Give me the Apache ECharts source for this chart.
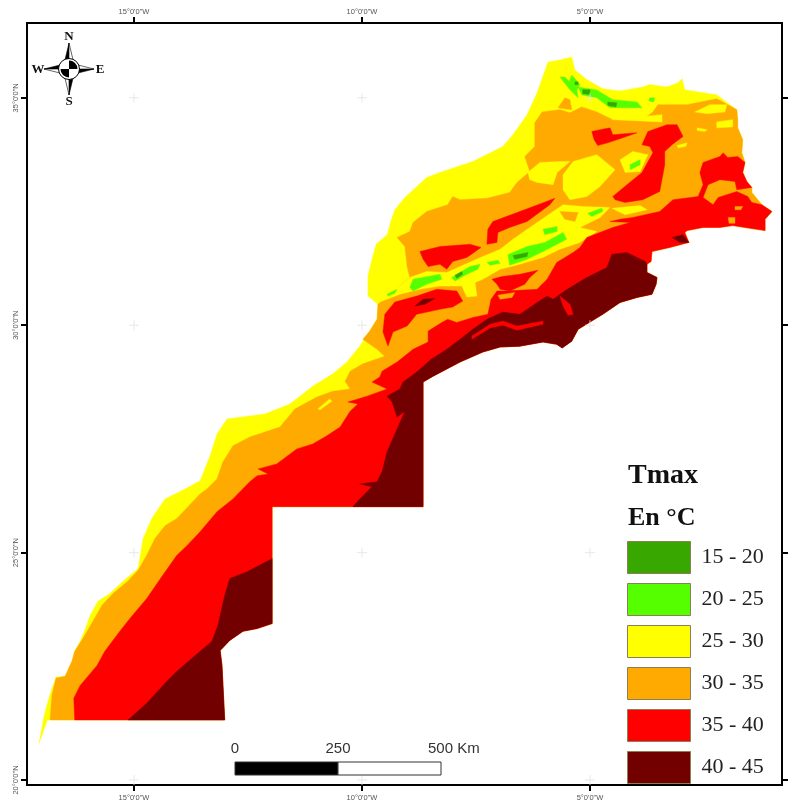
<!DOCTYPE html>
<html><head><meta charset="utf-8">
<style>html,body{margin:0;padding:0;background:#fff}#c{width:790px;height:802px}</style>
<script src="https://cdn.jsdelivr.net/npm/echarts@6/dist/echarts.min.js"></script>
</head><body><div id="c"></div>
<script>
// Tick values and labels
const lonTicks=[-15,-10,-5];
const latTicks=[35,30,25,20];
const classNames=['15 - 20','20 - 25','25 - 30','30 - 35','35 - 40','40 - 45'];
const classColors=['#38a800','#55ff00','#ffff00','#ffaa00','#ff0000','#730000'];

// Shared coastline / border pieces, [lon, lat]
const saharaCoast=[[-17.08,20.81],[-16.99,21.32],[-16.93,21.58],[-16.82,21.95],[-16.71,22.26],[-16.51,22.28],[-16.36,22.61],[-16.30,22.83],[-16.18,23.05],[-16.08,23.29],[-15.96,23.62],[-15.79,23.93],[-15.53,24.10],[-15.24,24.37],[-14.91,24.65],[-14.80,25.31],[-14.61,25.75],[-14.32,26.18],[-13.88,26.40],[-13.55,26.58],[-13.33,27.13],[-13.18,27.61],[-12.96,27.94],[-12.13,28.05],[-11.58,28.27],[-11.36,28.44],[-11.08,28.66],[-10.64,28.93],[-10.33,29.19],[-10.05,29.54]];
const atlanticSouth=[[-9.83,29.87],[-9.67,30.13],[-9.65,30.46]];
const atlanticNorth=[[-9.87,30.64],[-9.87,31.07],[-9.78,31.45],[-9.69,31.78],[-9.44,32.00],[-9.37,32.28],[-9.28,32.54],[-9.06,32.81],[-8.58,33.25],[-8.29,33.36],[-7.57,33.60],[-6.91,33.93],[-6.69,34.19],[-6.38,34.63],[-6.16,35.11],[-5.92,35.79],[-5.66,35.83],[-5.40,35.90],[-5.33,35.61],[-5.07,35.40],[-4.72,35.20],[-4.34,35.15],[-3.84,35.24],[-3.69,35.29],[-3.31,35.24],[-3.07,35.33],[-2.98,35.42],[-2.92,35.18],[-2.52,35.11],[-2.22,35.07],[-2.08,34.96],[-1.78,34.74]];
const easternEdge=[[-1.76,34.52],[-1.76,34.34],[-1.65,34.08],[-1.67,33.79],[-1.60,33.58]];
const easternEdgeLow=[[-1.65,33.36],[-1.56,33.16],[-1.45,33.03]];
const figuigTip=[[-1.45,32.92],[-1.23,32.65],[-1.01,32.50]];
const borderEast=[[-1.16,32.33],[-1.16,32.08],[-1.49,32.13],[-1.87,32.19],[-2.15,32.15],[-2.52,32.15],[-2.87,32.08],[-2.92,32.04],[-2.83,31.82],[-3.25,31.71],[-3.64,31.62],[-3.66,31.40]];
const borderMid=[[-3.75,31.34],[-3.75,31.16],[-3.53,31.05],[-3.55,30.90],[-3.64,30.68],[-3.97,30.61],[-4.34,30.50],[-4.72,30.24],[-5.00,30.07],[-5.26,29.91],[-5.40,29.65],[-5.61,29.50],[-5.73,29.58],[-6.03,29.63],[-6.54,29.54],[-6.97,29.52],[-7.35,29.41],[-7.85,29.19],[-8.44,28.88],[-8.66,28.75],[-8.66,26.01]];
const borderCorner=[[-11.97,26.01]];
const borderSouth=[[-11.97,23.44],[-12.30,23.33],[-12.61,23.27],[-12.90,23.07],[-13.11,22.85],[-13.07,22.52],[-13.01,21.32]];
const southEdgeEnd=[[-16.90,21.32]];

// 25-30 base: whole territory
const yellowBase=[[...saharaCoast,...atlanticSouth,...atlanticNorth,...easternEdge,...easternEdgeLow,...figuigTip,...borderEast,...borderMid,...borderCorner,...borderSouth,...southEdgeEnd]];

// 30-35 main area
const orangeWest=[[-16.84,21.32],[-16.80,21.86],[-16.71,22.24],[-16.51,22.28],[-16.36,22.61],[-16.30,22.83],[-16.12,23.11],[-15.90,23.49],[-15.70,23.84],[-15.46,24.10],[-15.15,24.36],[-14.91,24.61],[-14.72,24.94],[-14.54,25.31],[-14.32,25.59],[-14.06,25.75],[-13.55,26.29],[-13.40,26.40],[-13.18,26.62],[-13.05,26.99],[-12.83,27.35],[-12.46,27.54],[-11.80,27.76],[-11.47,28.16],[-10.99,28.42],[-10.64,28.55],[-10.26,28.60],[-10.37,28.77],[-10.26,28.99],[-9.98,29.15],[-9.50,29.32],[-9.67,29.47],[-9.98,29.69]];
const orangeNorth=[[-9.17,30.86],[-8.95,31.05],[-9.01,31.29],[-9.06,31.73],[-9.23,31.93],[-8.95,32.06],[-8.88,32.26],[-8.58,32.50],[-8.12,32.65],[-8.01,32.83],[-7.85,32.76],[-7.26,32.79],[-6.76,32.92],[-6.60,33.14],[-6.32,33.38],[-6.43,33.71],[-6.21,33.93],[-6.21,34.45],[-6.05,34.69],[-5.66,34.74],[-5.44,34.67],[-5.18,34.80],[-4.85,34.69],[-4.50,34.52],[-3.84,34.52],[-3.62,34.69],[-3.51,34.85],[-2.87,34.85],[-2.22,34.98],[-1.78,34.74]];
const orangeBase=[[...orangeWest,...atlanticSouth,...orangeNorth,...easternEdge,...easternEdgeLow,...figuigTip,...borderEast,...borderMid,...borderCorner,...borderSouth]];

// 25-30 patches over the 30-35 area
const yellowPatches=[
 [[-9.61,30.61],[-9.17,30.86],[-8.95,31.05],[-8.58,31.18],[-8.14,31.16],[-7.85,31.29],[-7.35,31.51],[-6.97,31.67],[-6.69,31.89],[-6.16,32.26],[-5.59,32.65],[-5.16,32.61],[-4.56,32.59],[-4.78,32.37],[-5.22,32.15],[-4.85,32.06],[-5.22,31.82],[-5.66,31.67],[-6.03,31.49],[-6.54,31.34],[-6.97,31.23],[-7.35,31.01],[-7.52,30.94],[-7.48,30.64],[-7.70,30.62],[-7.81,30.86],[-8.29,30.86],[-8.73,30.79],[-9.17,30.68],[-9.61,30.51]],
 [[-5.37,33.60],[-4.85,33.75],[-4.45,33.42],[-4.78,33.05],[-5.07,32.83],[-5.44,32.76],[-5.59,32.98],[-5.59,33.31]],
 [[-6.36,33.36],[-6.10,33.58],[-5.66,33.60],[-5.44,33.60],[-5.72,33.36],[-5.81,33.09],[-6.16,33.14],[-6.32,33.20]],
 [[-2.70,34.69],[-2.37,34.85],[-2.00,34.85],[-2.04,34.69],[-2.43,34.65]],
 [[-4.52,34.52],[-3.42,34.63],[-3.42,34.47],[-4.12,34.50]],
 [[-4.34,33.64],[-4.06,33.82],[-3.73,33.75],[-3.90,33.38],[-4.23,33.36]],
 [[-2.65,34.34],[-2.43,34.30],[-2.48,34.26],[-2.65,34.28]],
 [[-2.22,34.47],[-1.87,34.52],[-1.87,34.36],[-2.22,34.34]],
 [[-10.97,28.16],[-10.71,28.38],[-10.66,28.33],[-10.92,28.14]],
 [[-3.09,33.95],[-2.87,34.01],[-2.90,33.93],[-3.07,33.90]],
 [[-4.52,32.57],[-3.90,32.63],[-3.75,32.54],[-4.23,32.43]]
];

// 35-40 main area and patches
const redMainEdge=[[-16.30,21.32],[-16.32,21.80],[-16.18,22.08],[-15.81,22.52],[-15.64,22.83],[-15.31,23.27],[-15.09,23.55],[-14.72,23.99],[-14.37,24.50],[-14.06,24.94],[-13.84,25.15],[-13.55,25.46],[-13.18,25.90],[-12.83,26.18],[-12.46,26.56],[-12.30,26.69],[-12.06,26.73],[-12.28,26.84],[-11.87,26.95],[-11.43,27.28],[-11.08,27.39],[-10.77,27.57],[-10.48,27.76],[-10.26,28.11],[-10.09,28.27],[-10.31,28.31],[-9.89,28.44],[-9.45,28.60],[-9.78,28.75],[-9.61,28.86],[-9.56,28.99],[-9.23,29.19],[-8.88,29.47],[-8.55,29.63],[-8.55,29.87],[-8.25,30.06],[-8.12,30.13],[-7.92,30.06],[-7.57,30.17],[-7.24,30.24],[-7.17,30.57],[-7.04,30.75],[-6.87,30.75],[-6.16,30.79],[-5.94,31.01],[-5.73,31.38],[-5.37,31.60],[-5.22,31.71],[-5.07,31.93],[-4.50,32.15],[-4.12,32.26],[-4.56,32.28],[-4.34,32.33],[-4.06,32.37],[-3.47,32.50],[-3.18,32.76],[-2.63,32.83],[-2.52,33.09],[-2.59,33.36],[-2.52,33.58],[-2.15,33.71],[-2.08,33.79],[-1.98,33.69],[-1.76,33.71],[-1.60,33.58]];
const redPocket=[[-1.78,32.98],[-1.82,33.16],[-2.15,33.20],[-2.41,33.09],[-2.52,32.81],[-2.30,32.65],[-2.19,32.81],[-1.78,32.94],[-1.54,32.83],[-1.45,32.70]];
const redMain=[[...redMainEdge,...easternEdgeLow,...redPocket,...figuigTip.slice(1),...borderEast,...borderMid,...borderCorner,...borderSouth]];
const redPatches=[
 [[-7.26,31.78],[-7.24,32.11],[-7.13,32.28],[-6.54,32.50],[-6.01,32.70],[-5.77,32.79],[-5.88,32.65],[-6.38,32.28],[-6.76,32.15],[-7.02,32.04],[-7.04,31.82]],
 [[-8.73,31.62],[-8.29,31.73],[-7.63,31.78],[-7.39,31.71],[-7.70,31.49],[-8.01,31.40],[-8.14,31.23],[-8.29,31.34],[-8.55,31.29],[-8.66,31.45]],
 [[-9.54,29.85],[-9.50,30.24],[-9.28,30.51],[-8.80,30.64],[-8.36,30.79],[-7.92,30.75],[-7.79,30.53],[-8.01,30.40],[-8.29,30.35],[-8.80,30.24],[-9.01,29.98],[-9.32,29.85],[-9.43,29.54]],
 [[-4.50,32.83],[-4.19,33.09],[-3.86,33.36],[-3.62,33.79],[-3.69,33.93],[-3.86,33.97],[-3.73,34.26],[-3.31,34.41],[-3.09,34.41],[-2.96,34.15],[-3.20,33.97],[-3.36,33.82],[-3.36,33.53],[-3.47,32.94],[-3.84,32.76],[-4.23,32.70],[-4.45,32.76]],
 [[-4.96,34.26],[-4.78,34.30],[-4.56,34.34],[-4.50,34.19],[-3.97,34.23],[-4.28,34.12],[-4.61,34.01],[-4.83,33.95],[-4.91,34.08]],
 [[-7.15,31.01],[-6.93,31.07],[-6.54,31.12],[-6.14,31.21],[-6.32,31.05],[-6.43,30.90],[-6.76,30.75],[-6.97,30.79],[-7.04,30.90]]
];

// 40-45 areas
const darkRedEdge=[[-10.20,26.01],[-10.05,26.18],[-9.78,26.45],[-10.05,26.51],[-9.67,26.56],[-9.56,26.78],[-9.45,27.22],[-9.23,27.72],[-9.06,28.11],[-9.23,27.98],[-9.34,28.31],[-9.45,28.44],[-9.17,28.60],[-9.10,28.75],[-8.80,28.97],[-8.47,29.26],[-8.14,29.47],[-7.85,29.69],[-7.57,29.91],[-7.26,30.13],[-6.91,30.29],[-6.54,30.24],[-6.16,30.50],[-5.94,30.64],[-5.81,30.57],[-5.50,30.79],[-5.07,31.05],[-4.63,31.27],[-4.52,31.56],[-4.19,31.60],[-3.79,31.40]];
const darkRedSouthEdge=[[-15.13,21.32],[-14.72,21.69],[-14.28,22.17],[-14.06,22.39],[-13.55,22.83],[-13.29,23.05],[-13.16,23.40],[-13.01,24.06],[-12.90,24.43],[-12.52,24.58],[-11.97,24.87]];
const darkRedAreas=[
 [...darkRedEdge,...borderMid],
 [...darkRedSouthEdge,...borderSouth],
 [[-8.84,30.42],[-8.66,30.57],[-8.40,30.59],[-8.62,30.46]],
 [[-3.20,31.93],[-2.96,31.99],[-2.83,31.82],[-3.03,31.82]]
];

// 35-40 wisps inside the 40-45 band
const redWisps=[
 [[-7.59,29.76],[-7.19,30.02],[-6.91,30.09],[-6.60,29.98],[-6.03,30.09],[-6.03,30.02],[-6.60,29.89],[-6.91,30.00],[-7.19,29.94],[-7.59,29.69]],
 [[-5.66,30.64],[-5.44,30.46],[-5.37,30.24],[-5.48,30.22],[-5.59,30.42]]
];

// 30-35 spots over 35-40 and 25-30
const orangePatches=[
 [[-1.97,32.37],[-1.82,32.37],[-1.82,32.24],[-1.95,32.24]],
 [[-1.82,32.61],[-1.65,32.61],[-1.69,32.54],[-1.82,32.54]],
 [[-5.70,34.78],[-5.55,35.00],[-5.44,34.96],[-5.40,34.74]],
 [[-7.02,30.66],[-6.65,30.72],[-6.71,30.61],[-6.97,30.57]],
 [[-5.66,32.50],[-5.26,32.48],[-5.33,32.28],[-5.55,32.33]]
];

// 20-25 areas
const greenAreas=[
 [[-9.45,30.68],[-9.23,30.79],[-9.28,30.70],[-9.43,30.64]],
 [[-8.95,30.83],[-8.88,31.01],[-8.55,31.07],[-8.29,31.12],[-8.25,31.01],[-8.58,30.90],[-8.88,30.75]],
 [[-8.03,31.05],[-7.63,31.29],[-7.41,31.34],[-7.46,31.23],[-7.70,31.12],[-7.96,30.97]],
 [[-7.26,31.38],[-7.02,31.43],[-6.97,31.36],[-7.19,31.32]],
 [[-6.80,31.55],[-6.38,31.73],[-5.99,31.82],[-5.59,32.04],[-5.51,31.89],[-6.03,31.62],[-6.38,31.45],[-6.76,31.32]],
 [[-6.03,32.11],[-5.72,32.17],[-5.72,32.06],[-5.99,31.99]],
 [[-5.05,32.46],[-4.74,32.57],[-4.72,32.50],[-4.96,32.39]],
 [[-5.26,35.24],[-4.85,35.17],[-4.50,34.96],[-3.97,34.91],[-3.86,34.78],[-4.19,34.78],[-4.56,34.78],[-4.85,35.00],[-5.18,35.06]],
 [[-5.66,35.46],[-5.44,35.18],[-5.26,35.00],[-5.29,35.18],[-5.55,35.46]],
 [[-5.40,35.50],[-5.22,35.29],[-5.33,35.11],[-5.48,35.29]],
 [[-3.69,35.00],[-3.58,35.00],[-3.60,34.91],[-3.71,34.93]],
 [[-4.12,33.53],[-3.90,33.64],[-3.90,33.53],[-4.12,33.42]]
];

// 15-20 areas
const deepGreenAreas=[
 [[-5.16,35.18],[-5.00,35.18],[-5.00,35.07],[-5.16,35.09]],
 [[-4.61,34.91],[-4.41,34.89],[-4.43,34.80],[-4.61,34.83]],
 [[-5.33,35.35],[-5.26,35.35],[-5.26,35.29],[-5.33,35.29]],
 [[-6.69,31.53],[-6.36,31.60],[-6.38,31.51],[-6.65,31.45]],
 [[-7.96,31.10],[-7.81,31.18],[-7.79,31.12],[-7.92,31.03]]
];

function area(classIndex,rings){
  const color=classColors[classIndex];
  return {type:'custom',name:classNames[classIndex],coordinateSystem:'cartesian2d',xAxisIndex:0,yAxisIndex:0,
    silent:true,clip:false,itemStyle:{color},data:rings.map(r=>r[0]),
    renderItem:(p,api)=>({type:'polygon',shape:{points:rings[p.dataIndex].map(c=>api.coord(c))},style:{fill:color,stroke:color,lineWidth:0.4}})};
}
const crosses=[];
lonTicks.forEach(x=>latTicks.forEach(y=>crosses.push([x,y])));

const lonRange={min:-17.346,max:-0.789}, latRange={min:19.89,max:36.645};
const tickStyle={show:true,length:6,lineStyle:{color:'#000',width:2}};
function lonAxis(position,margin){return {type:'value',position,...lonRange,splitLine:{show:false},
  axisLine:{show:true,onZero:false,lineStyle:{color:'#000',width:2}},
  axisTick:{...tickStyle,customValues:lonTicks},
  axisLabel:{show:true,customValues:lonTicks,margin,fontSize:7.5,color:'#555',fontFamily:'Liberation Sans',
    formatter:v=>Math.abs(v)+'°0\'0"W'}};}
function latAxis(position,labels){return {type:'value',position,...latRange,splitLine:{show:false},
  axisLine:{show:true,onZero:false,lineStyle:{color:'#000',width:2}},
  axisTick:{...tickStyle,customValues:latTicks},
  axisLabel:{show:labels,customValues:latTicks,margin:7,fontSize:7.5,rotate:90,color:'#555',fontFamily:'Liberation Sans',
    formatter:v=>v+'°0\'0"N'}};}

const cx=69,cy=69;
const ink='#000';
function tri(a,b,c,fill){return {type:'polygon',shape:{points:[a,b,c]},style:{fill,stroke:'#000',lineWidth:0.6},z:10};}
function letter(t,x,y){return {type:'text',x,y,z:11,style:{text:t,font:'bold 13px "Liberation Serif"',fill:'#111',align:'center',verticalAlign:'middle'}};}
const compass=[
 tri([cx,cy-26],[cx-5,cy-5],[cx,cy-5],ink),tri([cx,cy-26],[cx+5,cy-5],[cx,cy-5],'#fff'),
 tri([cx,cy+26],[cx+5,cy+5],[cx,cy+5],ink),tri([cx,cy+26],[cx-5,cy+5],[cx,cy+5],'#fff'),
 tri([cx-25,cy],[cx-5,cy-5],[cx-5,cy],ink),tri([cx-25,cy],[cx-5,cy+5],[cx-5,cy],'#fff'),
 tri([cx+25,cy],[cx+5,cy+5],[cx+5,cy],ink),tri([cx+25,cy],[cx+5,cy-5],[cx+5,cy],'#fff'),
 {type:'circle',z:12,shape:{cx,cy,r:10.5},style:{fill:'#fff',stroke:'#000',lineWidth:1}},
 {type:'sector',z:13,shape:{cx,cy,r:8.5,r0:0,startAngle:-Math.PI/2,endAngle:0},style:{fill:'#000'}},
 {type:'sector',z:13,shape:{cx,cy,r:8.5,r0:0,startAngle:Math.PI/2,endAngle:Math.PI},style:{fill:'#000'}},
 letter('N',69,37),letter('S',69,102),letter('W',38,70),letter('E',100,70)
];
function barText(t,x,align){return {type:'text',x,y:749,z:11,style:{text:t,font:'15px "Liberation Sans"',fill:'#333',align,verticalAlign:'middle'}};}
const scaleBar=[
 {type:'rect',z:10,shape:{x:235,y:762,width:103,height:13},style:{fill:'#000',stroke:'#333',lineWidth:1}},
 {type:'rect',z:10,shape:{x:338,y:762,width:103,height:13},style:{fill:'#fff',stroke:'#333',lineWidth:1}},
 barText('0',235,'center'),barText('250',338,'center'),barText('500 Km',428,'left')
];

const chart=echarts.init(document.getElementById('c'),null,{renderer:'canvas'});
chart.setOption({
  animation:false,backgroundColor:'#fff',
  grid:{left:27,right:8,top:23,bottom:15,show:true,borderColor:'#000',borderWidth:2,containLabel:false},
  xAxis:[lonAxis('bottom',9),lonAxis('top',7)],
  yAxis:[latAxis('left',true),latAxis('right',false)],
  title:[
    {text:'Tmax',left:628,top:462,padding:0,textStyle:{fontFamily:'Liberation Serif',fontWeight:'bold',fontSize:28,color:'#111'}},
    {text:'En °C',left:628,top:505,padding:0,textStyle:{fontFamily:'Liberation Serif',fontWeight:'bold',fontSize:26,color:'#111'}}
  ],
  legend:{data:classNames,orient:'vertical',left:627,top:541,padding:0,itemWidth:63,itemHeight:32,itemGap:9,icon:'rect',selectedMode:false,
    itemStyle:{borderColor:'#8a7f55',borderWidth:1},
    textStyle:{fontFamily:'Liberation Serif',fontSize:22,color:'#222',padding:[0,0,0,6]}},
  graphic:[...compass,...scaleBar],
  series:[
    {type:'scatter',name:'graticule',data:crosses,xAxisIndex:0,yAxisIndex:0,silent:true,symbol:'path://M5 0V10M0 5H10',symbolSize:10,
      itemStyle:{color:'none',borderColor:'#e2e2e2',borderWidth:1}},
    area(2,yellowBase),area(3,orangeBase),area(2,yellowPatches),area(4,redMain),area(4,redPatches),
    area(5,darkRedAreas),area(4,redWisps),area(3,orangePatches),area(1,greenAreas),area(0,deepGreenAreas)
  ]
});
</script></body></html>
